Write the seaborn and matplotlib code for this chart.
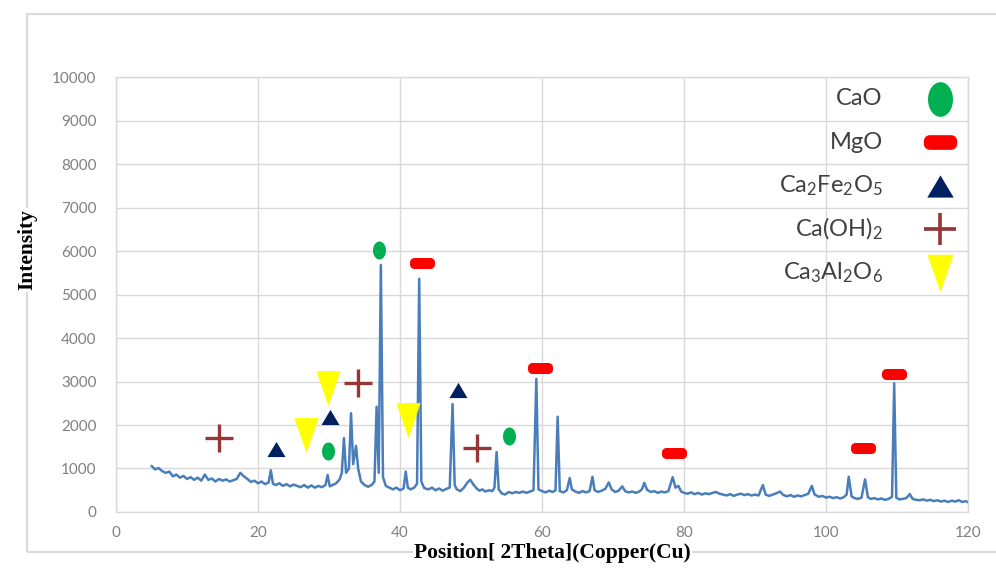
import numpy as np
import matplotlib
matplotlib.use("Agg")
import matplotlib.pyplot as plt
from matplotlib.patches import Rectangle
import seaborn as sns

# XRD pattern (2theta, intensity)
two_theta = [
    5.0, 5.5, 6.0, 6.5, 7.0, 7.5, 8.0, 8.5, 9.0, 9.5, 10.0, 10.5, 11.0, 11.5, 12.0,
    12.5, 13.0, 13.5, 14.0, 14.5, 15.0, 15.5, 16.0, 16.5, 17.0, 17.5, 18.0, 18.5,
    19.0, 19.5, 20.0, 20.5, 21.0, 21.5, 21.8, 22.1, 22.5, 23.0, 23.5, 24.0, 24.5,
    25.0, 25.5, 26.0, 26.5, 27.0, 27.5, 28.0, 28.5, 29.0, 29.5, 29.8, 30.1, 30.5,
    31.0, 31.5, 31.8, 32.1, 32.4, 32.8, 33.1, 33.4, 33.8, 34.1, 34.5, 35.0, 35.5,
    36.0, 36.4, 36.7, 37.0, 37.3, 37.6, 38.0, 38.5, 39.0, 39.5, 40.0, 40.5, 40.8,
    41.1, 41.5, 42.0, 42.4, 42.7, 43.0, 43.4, 44.0, 44.5, 45.0, 45.5, 46.0, 46.5,
    47.0, 47.4, 47.7, 48.0, 48.5, 49.0, 49.5, 49.9, 50.3, 50.8, 51.2, 51.6, 52.0,
    52.5, 53.0, 53.3, 53.6, 53.9, 54.3, 54.8, 55.3, 55.8, 56.3, 56.8, 57.3, 57.8,
    58.3, 58.8, 59.2, 59.5, 60.0, 60.5, 61.0, 61.5, 61.9, 62.2, 62.5, 63.0, 63.5,
    63.9, 64.2, 64.7, 65.2, 65.7, 66.2, 66.7, 67.1, 67.4, 67.9, 68.4, 68.9, 69.4,
    69.8, 70.3, 70.8, 71.3, 71.7, 72.2, 72.7, 73.2, 73.7, 74.1, 74.4, 74.8, 75.3,
    75.8, 76.3, 76.8, 77.3, 77.8, 78.4, 78.8, 79.2, 79.6, 80.0, 80.5, 81.0, 81.5,
    82.0, 82.5, 83.0, 83.5, 84.0, 84.5, 85.0, 85.5, 86.0, 86.5, 87.0, 87.5, 88.0,
    88.5, 89.0, 89.5, 90.0, 90.5, 91.1, 91.5, 92.0, 92.5, 93.0, 93.5, 94.0, 94.5,
    95.0, 95.5, 96.0, 96.5, 97.0, 97.5, 98.0, 98.4, 99.0, 99.5, 100.0, 100.5, 101.0,
    101.5, 102.0, 102.5, 102.9, 103.2, 103.6, 104.0, 104.5, 105.0, 105.5, 105.9,
    106.3, 106.8, 107.3, 107.8, 108.3, 108.8, 109.3, 109.6, 109.9, 110.3, 110.8,
    111.3, 111.8, 112.2, 112.7, 113.2, 113.7, 114.2, 114.7, 115.2, 115.7, 116.2,
    116.7, 117.2, 117.7, 118.2, 118.7, 119.2, 119.7, 120.0,
]
intensity = [
    1060, 980, 1010, 940, 900, 930, 820, 860, 790, 830, 760, 800, 740, 790, 720,
    860, 740, 770, 700, 760, 720, 750, 700, 730, 760, 900, 820, 760,
    690, 720, 660, 700, 640, 680, 960, 650, 620, 660, 600, 640, 590,
    630, 600, 570, 620, 560, 610, 560, 600, 570, 620, 850, 590, 620,
    660, 750, 900, 1700, 900, 1000, 2270, 1100, 1520, 1000, 700, 620, 580,
    620, 700, 2420, 900, 5680, 800, 600, 560, 520, 560, 500, 540, 930,
    560, 520, 560, 650, 5360, 700, 550, 520, 560, 500, 540, 490, 530,
    560, 2480, 620, 520, 480, 560, 680, 740, 640, 540, 490, 520, 470,
    500, 480, 560, 1380, 520, 430, 400, 460, 430, 460, 440, 470, 440,
    470, 500, 3060, 520, 480, 450, 490, 460, 500, 2190, 480, 450, 500,
    780, 520, 470, 440, 480, 450, 480, 810, 500, 460, 490, 530, 680,
    520, 460, 490, 590, 480, 450, 470, 440, 470, 530, 670, 510, 460,
    480, 440, 470, 450, 480, 800, 560, 600, 470, 440, 420, 450, 410,
    440, 400, 430, 410, 440, 460, 420, 400, 380, 410, 370, 400, 420,
    390, 410, 380, 400, 380, 620, 400, 370, 400, 430, 470, 390, 360,
    390, 350, 380, 360, 390, 420, 600, 400, 350, 370, 330, 350, 320,
    340, 310, 340, 400, 810, 360, 320, 300, 330, 750, 340,
    300, 320, 290, 310, 280, 300, 350, 2960, 330, 290, 300,
    320, 410, 300, 280, 270, 290, 260, 280, 250, 270, 240,
    260, 230, 260, 240, 270, 230, 250, 220,
]

# phase markers placed above the peaks
cao_x, cao_y = [37.0, 29.8, 55.3], [6030, 1410, 1750]
mgo_x, mgo_y = [43.1, 59.7, 78.6, 105.2, 109.6], [5730, 3310, 1365, 1465, 3170]
cfo_x, cfo_y = [22.6, 30.1, 48.2], [1450, 2180, 2800]
coh_x, coh_y = [14.5, 34.1, 50.9], [1700, 2970, 1480]
c3a_x, c3a_y = [26.7, 29.9, 41.1], [1770, 2850, 2120]

legend_labels = ["CaO", "MgO", r"Ca$_\mathregular{2}$Fe$_\mathregular{2}$O$_\mathregular{5}$",
                 r"Ca(OH)$_\mathregular{2}$", r"Ca$_\mathregular{3}$Al$_\mathregular{2}$O$_\mathregular{6}$"]
legend_y = [9500, 8500, 7500, 6500, 5500]


def ellipse(rx=0.4, ry=0.5):
    t = np.linspace(0, 2 * np.pi, 41)
    return list(zip(rx * np.cos(t), ry * np.sin(t)))


def rounded_rect(w=1.0, h=0.44, r=0.18):
    pts = []
    cx, cy = w / 2 - r, h / 2 - r
    for (sx, sy, a0) in [(1, 1, 0), (-1, 1, 90), (-1, -1, 180), (1, -1, 270)]:
        for a in np.radians(np.linspace(a0, a0 + 90, 8)):
            pts.append((sx * cx + r * np.cos(a), sy * cy + r * np.sin(a)))
    return pts


tri_up = [(-0.5, -0.42), (0.5, -0.42), (0.0, 0.42)]
tri_down = [(-0.35, 0.5), (0.35, 0.5), (0.0, -0.5)]

sns.set_style("whitegrid")
plt.rcParams["font.family"] = ["Lato", "DejaVu Sans"]
plt.rcParams["mathtext.fontset"] = "custom"
plt.rcParams["mathtext.rm"] = "Lato"
plt.rcParams["mathtext.it"] = "Lato:italic"

fig = plt.figure(figsize=(9.96, 5.68), dpi=100)
ax = fig.add_axes([0.1165, 0.0986, 0.8554, 0.7658])

sns.lineplot(x=two_theta, y=intensity, sort=False, color="#4a7ebb", lw=1.8, ax=ax)

# (x, y, marker, colour, size in plot, size in legend, edge width)
phases = [
    (cao_x, cao_y, ellipse(0.36, 0.5), "#00b050", 13, 25, 0),
    (mgo_x, mgo_y, rounded_rect(), "#ff0000", 18, 24, 0),
    (cfo_x, cfo_y, tri_up, "#002060", 13, 19, 0),
    (coh_x, coh_y, "+", "#953735", 20, 23, 2.4),
    (c3a_x, c3a_y, tri_down, "#ffff00", 25, 27, 0),
]
for (px, py, mk, col, ms, ms_leg, mew), lab, ly in zip(phases, legend_labels, legend_y):
    ax.plot(px, py, ls="none", marker=mk, ms=ms, color=col,
            mew=mew if mew else 0, zorder=4)
    ax.plot([116.1], [ly], ls="none", marker=mk, ms=ms_leg, color=col,
            mew=mew * 1.1 if mew else 0, zorder=4)
    ax.text(108.0, ly, lab, ha="right", va="center", fontsize=17, color="#404040", zorder=4)

ax.set_xlim(0, 120)
ax.set_ylim(0, 10000)
ax.set_xticks(range(0, 121, 20))
ax.set_yticks(range(0, 10001, 1000))
ax.grid(True, color="#d9d9d9", lw=1)
ax.tick_params(length=0, labelsize=11, labelcolor="#808080")
ax.tick_params(axis="y", pad=14)
ax.tick_params(axis="x", pad=10)
for s in ax.spines.values():
    s.set_color("#d9d9d9")
    s.set_linewidth(1)
ax.set_xlabel("")
ax.set_ylabel("")

# outer chart frame
fig.patches.append(Rectangle((0.0271, 0.0282), 1.0, 0.9472, transform=fig.transFigure,
                             fill=False, edgecolor="#d9d9d9", lw=1.5, clip_on=False))

fig.text(0.027, 0.56, "Intensity", rotation=90, ha="center", va="center",
         family="Liberation Serif", weight="bold", fontsize=15.5, color="black",
         bbox=dict(facecolor="white", edgecolor="none", pad=1))
fig.text(0.555, 0.027, "Position[ 2Theta](Copper(Cu)", ha="center", va="center",
         family="Liberation Serif", weight="bold", fontsize=15.5, color="black",
         bbox=dict(facecolor="white", edgecolor="none", pad=1))

fig.savefig("out.png", dpi=100)
